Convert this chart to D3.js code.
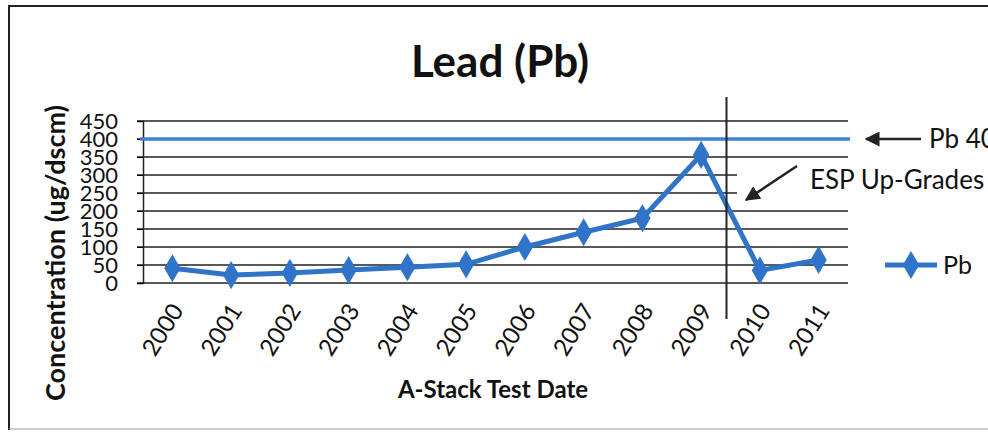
<!DOCTYPE html>
<html>
<head>
<meta charset="utf-8">
<script src="https://cdn.jsdelivr.net/npm/d3@7"></script>
<style>
body { margin: 0; background: #fff; }
text { font-family: Lato, "Open Sans", sans-serif; fill: #111; }
</style>
</head>
<body>
<div id="chart"></div>
<script>
// lead concentration by test year, with the 400 limit line
var years = ["2000", "2001", "2002", "2003", "2004", "2005", "2006", "2007", "2008", "2009", "2010", "2011"];
var pbValues = [41, 22, 28, 36, 44, 52, 100, 141, 180, 356, 35, 64];
var yTicks = [0, 50, 100, 150, 200, 250, 300, 350, 400, 450];
var limitValue = 400;
var upgradeAfter = "2009";

var W = 988, H = 432;
var margin = {top: 121, right: 140, bottom: 149, left: 143};
var width = W - margin.left - margin.right,
	height = H - margin.top - margin.bottom;

var svg = d3.select("#chart").append("svg")
	.attr("width", W)
	.attr("height", H);

// frame
svg.append("path")
	.attr("d", "M9,430 L9,6 L990,6")
	.attr("fill", "none")
	.attr("stroke", "#222")
	.attr("stroke-width", 2);
svg.append("line")
	.attr("x1", 9).attr("x2", 990).attr("y1", 429).attr("y2", 429)
	.attr("stroke", "#999").attr("stroke-width", 1);

var g = svg.append("g")
	.attr("transform", "translate(" + margin.left + "," + margin.top + ")");

var x = d3.scaleBand()
	.domain(years)
	.range([0, width]);
var y = d3.scaleLinear()
	.domain([0, 450])
	.range([height, 0]);

// grid
g.selectAll(".grid")
	.data(yTicks)
	.enter().append("line")
		.attr("class", "grid")
		.attr("x1", -6)
		.attr("x2", width)
		.attr("y1", function(d){ return y(d); })
		.attr("y2", function(d){ return y(d); })
		.attr("stroke", "#222")
		.attr("stroke-width", 1.5);

// y axis
var yAxis = g.append("g")
	.call(d3.axisLeft(y).tickValues(yTicks).tickSize(6).tickPadding(19));
yAxis.select(".domain").attr("stroke", "#222").attr("stroke-width", 1.5);
yAxis.selectAll("text")
	.style("font-size", "22px")
	.style("font-family", "Lato, sans-serif")
	.attr("fill", "#111");

// x axis
var xAxis = g.append("g")
	.attr("transform", "translate(0," + height + ")")
	.call(d3.axisBottom(x).tickSize(0));
xAxis.select(".domain").remove();
xAxis.selectAll("text")
	.style("font-size", "24px")
	.style("font-family", "Lato, sans-serif")
	.attr("fill", "#111")
	.style("text-anchor", "end")
	.attr("x", 0)
	.attr("y", 0)
	.attr("dy", "0.35em")
	.attr("transform", "translate(5,23) rotate(-58)");

// limit line
g.append("line")
	.attr("x1", -3)
	.attr("x2", width + 2)
	.attr("y1", y(limitValue))
	.attr("y2", y(limitValue))
	.attr("stroke", "#3d83d6")
	.attr("stroke-width", 3.5);

// Pb series
var line = d3.line()
	.x(function(d, i){ return x(years[i]) + x.bandwidth() / 2; })
	.y(function(d){ return y(d); });
g.append("path")
	.datum(pbValues)
	.attr("fill", "none")
	.attr("stroke", "#2f74c8")
	.attr("stroke-width", 5)
	.attr("d", line);
g.selectAll(".pt")
	.data(pbValues)
	.enter().append("path")
		.attr("class", "pt")
		.attr("d", d3.symbol().type(d3.symbolDiamond).size(230))
		.attr("fill", "#2f74c8")
		.attr("transform", function(d, i){
			return "translate(" + (x(years[i]) + x.bandwidth() / 2) + "," + y(d) + ")";
		});

// upgrade marker
var vx = x(upgradeAfter) + x.bandwidth() - 4;
g.append("line")
	.attr("x1", vx).attr("x2", vx)
	.attr("y1", -24).attr("y2", height + 36)
	.attr("stroke", "#222")
	.attr("stroke-width", 2);

// arrowheads
svg.append("defs").append("marker")
	.attr("id", "arr")
	.attr("viewBox", "0 0 10 10")
	.attr("refX", 9).attr("refY", 5)
	.attr("markerWidth", 6).attr("markerHeight", 6)
	.attr("markerUnits", "strokeWidth")
	.attr("orient", "auto")
	.append("path")
		.attr("d", "M0,0 L10,5 L0,10 z")
		.attr("fill", "#222");

// annotations (text box hides the grid behind it)
svg.append("rect")
	.attr("x", 737).attr("y", 166)
	.attr("width", 260).attr("height", 34)
	.attr("fill", "#fff");
svg.append("line")
	.attr("x1", 921).attr("y1", 139).attr("x2", 866).attr("y2", 139)
	.attr("stroke", "#222").attr("stroke-width", 2.5)
	.attr("marker-end", "url(#arr)");
svg.append("text")
	.attr("x", 929).attr("y", 148)
	.style("font-size", "26px")
	.text("Pb 40");

svg.append("line")
	.attr("x1", 797).attr("y1", 166).attr("x2", 746).attr("y2", 200)
	.attr("stroke", "#222").attr("stroke-width", 2.5)
	.attr("marker-end", "url(#arr)");
svg.append("text")
	.attr("x", 810).attr("y", 189)
	.style("font-size", "26px")
	.text("ESP Up-Grades");

// legend
var lg = svg.append("g").attr("transform", "translate(885,265)");
lg.append("line")
	.attr("x1", 0).attr("x2", 52)
	.attr("stroke", "#2f74c8").attr("stroke-width", 5);
lg.append("path")
	.attr("d", d3.symbol().type(d3.symbolDiamond).size(230))
	.attr("fill", "#2f74c8")
	.attr("transform", "translate(26,0)");
lg.append("text")
	.attr("x", 58).attr("y", 9)
	.style("font-size", "25px")
	.text("Pb");

// titles
svg.append("text")
	.attr("x", 500).attr("y", 77)
	.style("text-anchor", "middle")
	.style("font-size", "44px")
	.style("font-weight", "bold")
	.text("Lead (Pb)");
svg.append("text")
	.attr("x", 493).attr("y", 398)
	.style("text-anchor", "middle")
	.style("font-size", "24px")
	.style("font-weight", "bold")
	.text("A-Stack Test Date");
svg.append("text")
	.attr("transform", "translate(65,253) rotate(-90)")
	.style("text-anchor", "middle")
	.style("font-size", "27px")
	.style("font-weight", "bold")
	.text("Concentration (ug/dscm)");
</script>
</body>
</html>
